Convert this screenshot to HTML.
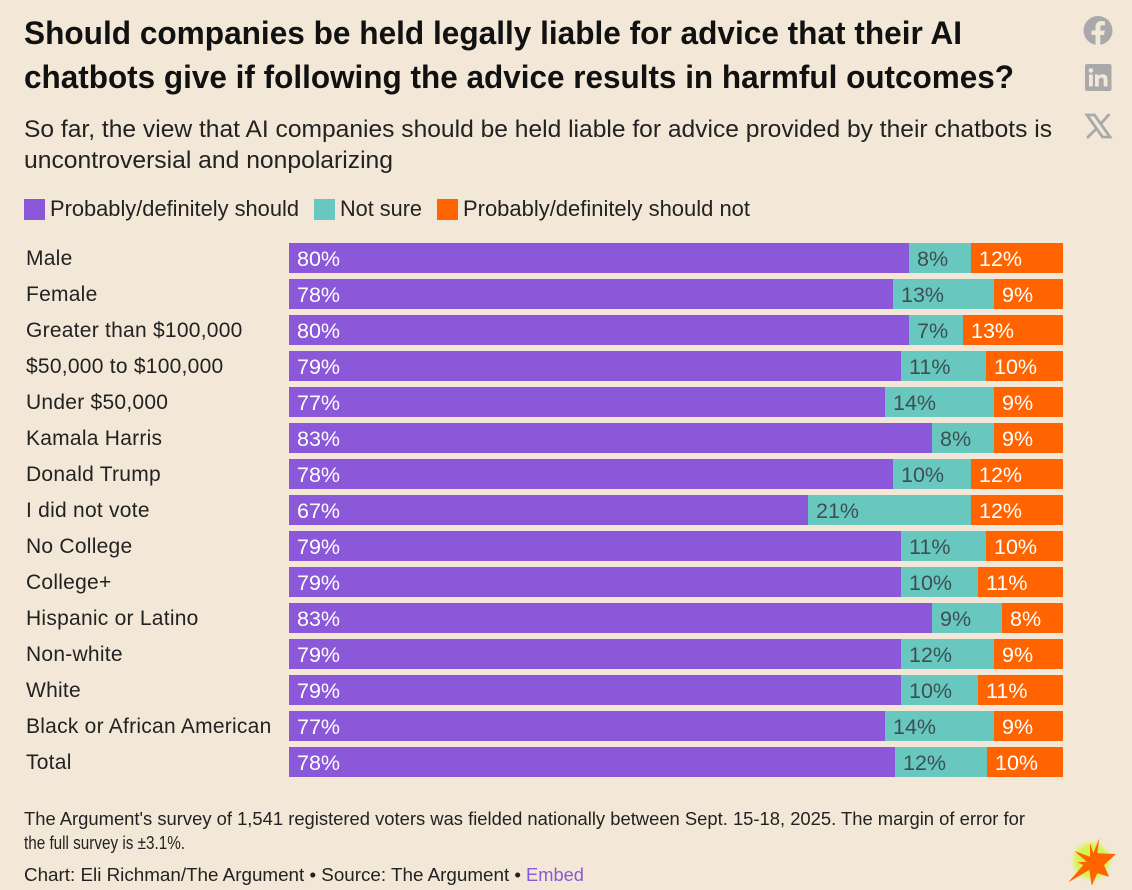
<!DOCTYPE html>
<html lang="en">
<head>
<meta charset="utf-8">
<title>AI chatbot liability chart</title>
<style>
html,body{margin:0;padding:0;background:#f3e8d7;}
svg{display:block;font-family:"Liberation Sans",sans-serif;}
</style>
</head>
<body>
<svg id="chart" width="1132" height="890" viewBox="0 0 1132 890" xmlns="http://www.w3.org/2000/svg">
<defs>
<radialGradient id="glow"><stop offset="0" stop-color="#d8f23a"/><stop offset="0.7" stop-color="#d8f25a"/><stop offset="1" stop-color="#e8f09a" stop-opacity="0"/></radialGradient>
</defs>
<rect width="1132" height="890" fill="#f3e8d7"/>
<g font-weight="700" font-size="32" fill="#111">
<text x="24" y="44" textLength="938" lengthAdjust="spacingAndGlyphs">Should companies be held legally liable for advice that their AI</text>
<text x="24" y="88" textLength="990" lengthAdjust="spacingAndGlyphs">chatbots give if following the advice results in harmful outcomes?</text>
</g>
<g font-size="24" fill="#222">
<text x="24" y="137" textLength="1028" lengthAdjust="spacingAndGlyphs">So far, the view that AI companies should be held liable for advice provided by their chatbots is</text>
<text x="24" y="168" textLength="369" lengthAdjust="spacingAndGlyphs">uncontroversial and nonpolarizing</text>
</g>
<g font-size="22" fill="#222">
<g>
<rect x="24" y="199" width="21" height="21" fill="#8a58d8"/>
<text x="50" y="216" textLength="249" lengthAdjust="spacingAndGlyphs">Probably/definitely should</text>
</g>
<g>
<rect x="314" y="199" width="21" height="21" fill="#68c8c0"/>
<text x="340" y="216" textLength="82" lengthAdjust="spacingAndGlyphs">Not sure</text>
</g>
<g>
<rect x="437" y="199" width="21" height="21" fill="#ff6400"/>
<text x="463" y="216" textLength="287" lengthAdjust="spacingAndGlyphs">Probably/definitely should not</text>
</g>
</g>
<g id="rows"></g>
<g font-size="18" fill="#222">
<text x="24" y="825" textLength="1001" lengthAdjust="spacingAndGlyphs">The Argument's survey of 1,541 registered voters was fielded nationally between Sept. 15-18, 2025. The margin of error for</text>
<text x="24" y="849" textLength="161" lengthAdjust="spacingAndGlyphs">the full survey is ±3.1%.</text>
<text x="24" y="881" textLength="497" lengthAdjust="spacingAndGlyphs">Chart: Eli Richman/The Argument • Source: The Argument •</text>
<text x="526" y="881" textLength="58" lengthAdjust="spacingAndGlyphs" fill="#8a58d8">Embed</text>
</g>
<g>
<circle cx="1098" cy="30.500" r="14.500" fill="#a9a9a9"/>
<path d="M1095.500 45 V35 H1091.500 V30.500 H1095.500 V27 C1095.500 23 1098 21 1101.500 21 L1105 21.400 V25.300 H1103 C1101 25.300 1100.300 26.300 1100.300 28 V30.500 H1104.800 L1104 35 H1100.300 V45 Z" fill="#f3e8d7"/>
</g>
<g>
<rect x="1085" y="64" width="26.500" height="27" rx="2" fill="#a9a9a9"/>
<rect x="1089" y="74.500" width="3.800" height="12" fill="#f3e8d7"/>
<circle cx="1090.900" cy="70.500" r="2.300" fill="#f3e8d7"/>
<path d="M1095 74.500 H1098.700 V76.300 C1099.600 75 1101 74.200 1102.800 74.200 C1106 74.200 1107.500 76.200 1107.500 79.500 V86.500 H1103.700 V80.300 C1103.700 78.500 1103 77.500 1101.500 77.500 C1099.800 77.500 1098.800 78.700 1098.800 80.500 V86.500 H1095 Z" fill="#f3e8d7"/>
</g>
<g>
<path d="M1087 115 H1094.500 L1110 137 H1102.500 Z" fill="none" stroke="#a9a9a9" stroke-width="2.800"/>
<path d="M1109.500 114 L1099.800 124.800 M1096.500 128.500 L1087 138" fill="none" stroke="#a9a9a9" stroke-width="2.800"/>
</g>
<g>
<circle cx="1091.500" cy="861" r="22" fill="url(#glow)"/>
<polygon fill="#ff6400" points="1099.300,838.300 1097.300,853.300 1116,854 1104,865 1109,876.700 1097.300,873.300 1091.700,885.700 1089.300,870 1068.300,882.300 1083.300,865 1077.300,862.300 1086.700,861.700 1074.300,851 1090,856.700 1090,842.700 1093.300,853.300"/>
</g>
<script>
var categories = ["Male","Female","Greater than $100,000","$50,000 to $100,000","Under $50,000","Kamala Harris","Donald Trump","I did not vote","No College","College+","Hispanic or Latino","Non-white","White","Black or African American","Total"];
var shouldValues = [80,78,80,79,77,83,78,67,79,79,83,79,79,77,78.3];
var notSureValues = [8,13,7,11,14,8,10,21,11,10,9,12,10,14,11.8];
var shouldNotValues = [12,9,13,10,9,9,12,12,10,11,8,9,11,9,9.9];

var SVGNS = "http://www.w3.org/2000/svg";
var plotLeft = 289, plotRight = 1063, pxPerPercent = 7.75, plotTop = 243, rowStep = 36, barHeight = 30;
function xScale(v) { return Math.min(plotRight, Math.floor(plotLeft + v * pxPerPercent)); }
function yScale(i) { return plotTop + i * rowStep; }
function make(tag, attrs, parent) {
  var el = document.createElementNS(SVGNS, tag);
  for (var k in attrs) el.setAttribute(k, attrs[k]);
  parent.appendChild(el);
  return el;
}
var rowsGroup = document.getElementById("rows");
var seriesInfo = [
  { key: "should", values: shouldValues, fill: "#8a58d8", text: "#ffffff" },
  { key: "not-sure", values: notSureValues, fill: "#68c8c0", text: "#3d4f50" },
  { key: "should-not", values: shouldNotValues, fill: "#ff6400", text: "#ffffff" }
];
categories.forEach(function (cat, i) {
  var y = yScale(i);
  var row = make("g", {}, rowsGroup);
  
  
  var label = make("text", { x: 26, y: y + 22, "font-size": 21, fill: "#222", "letter-spacing": "0.25" }, row);
  
  
  label.textContent = cat;
  var cum = 0;
  seriesInfo.forEach(function (s) {
    var v = s.values[i];
    var x0 = xScale(cum);
    var x1 = xScale(cum + v);
    var bar = make("rect", { x: x0, y: y, width: Math.max(0, x1 - x0), height: barHeight, fill: s.fill }, row);
    
    
    var t = make("text", { x: x0 + 8, y: y + 23, "font-size": 21.500, fill: s.text }, row);
    
    
    t.textContent = Math.round(v) + "%";
    cum += v;
  });
});
</script>
</svg>
</body>
</html>
